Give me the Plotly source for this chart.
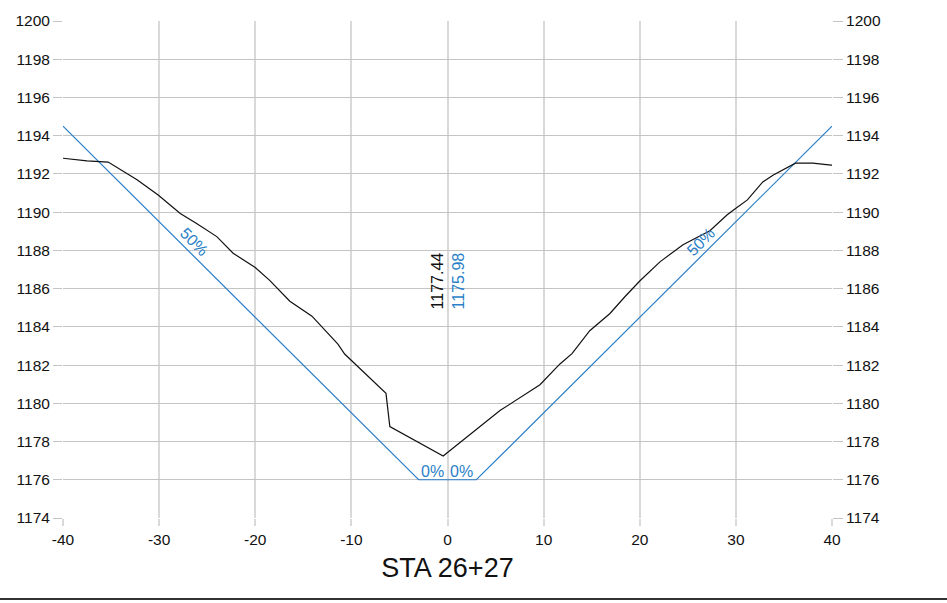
import plotly.graph_objects as go

# Existing ground profile (offset ft, elevation ft)
ground_x = [-40.0, -37.5, -35.3, -32.3, -30.1, -27.8, -26.1, -24.0, -22.3, -20.0, -18.5,
            -16.4, -14.1, -11.4, -10.7, -6.4, -6.0, -0.45, 5.46, 8.58, 9.62, 11.7,
            12.95, 14.8, 16.9, 18.5, 20.0, 22.1, 24.5, 27.3, 29.1, 29.9, 31.2, 32.8,
            33.9, 36.2, 38.0, 39.9, 40.0]
ground_y = [1192.82, 1192.68, 1192.62, 1191.70, 1190.90, 1189.93, 1189.41, 1188.72, 1187.85,
            1187.10, 1186.43, 1185.34, 1184.56, 1183.10, 1182.58, 1180.52, 1178.78, 1177.24,
            1179.62, 1180.66, 1180.97, 1182.06, 1182.60, 1183.80, 1184.70, 1185.60, 1186.40,
            1187.40, 1188.30, 1189.03, 1189.86, 1190.17, 1190.64, 1191.58, 1191.94, 1192.56,
            1192.56, 1192.46, 1192.46]

# Proposed design section
design_x = [-40.0, -3.0, 0.0, 3.0, 40.0]
design_y = [1194.5, 1176.0, 1176.0, 1176.0, 1194.5]

station_label = "STA 26+27"
ground_center = "1177.44"
design_center = "1175.98"
slope_labels = ["50%", "0%", "0%", "50%"]

x_ticks = [-40, -30, -20, -10, 0, 10, 20, 30, 40]
x_tick_text = ["-40", "-30", "-20", "-10", "0", "10", "20", "30", "40"]
y_ticks = list(range(1174, 1201, 2))

BLUE = "#2b7fc8"
FONT = "Liberation Sans, Arial, sans-serif"
TICK = 15.5
ANN = 16

fig = go.Figure()
fig.add_trace(go.Scatter(x=design_x, y=design_y, mode="lines",
                         line=dict(color=BLUE, width=1.2), hoverinfo="skip", showlegend=False))
fig.add_trace(go.Scatter(x=ground_x, y=ground_y, mode="lines",
                         line=dict(color="#111111", width=1.2), hoverinfo="skip", showlegend=False))
# invisible trace for right axis
fig.add_trace(go.Scatter(x=[x_ticks[0]], y=[y_ticks[0]], yaxis="y2", mode="markers",
                         marker=dict(opacity=0), hoverinfo="skip", showlegend=False))

ann = []
ann.append(dict(x=-26.4, y=1188.45, text=slope_labels[0], textangle=45, showarrow=False,
                font=dict(color=BLUE, size=ANN, family=FONT)))
ann.append(dict(x=-1.6, y=1176.42, text=slope_labels[1], showarrow=False,
                font=dict(color=BLUE, size=ANN, family=FONT)))
ann.append(dict(x=1.5, y=1176.42, text=slope_labels[2], showarrow=False,
                font=dict(color=BLUE, size=ANN, family=FONT)))
ann.append(dict(x=26.4, y=1188.45, text=slope_labels[3], textangle=-45, showarrow=False,
                font=dict(color=BLUE, size=ANN, family=FONT)))
ann.append(dict(x=0, y=1186.4, text=ground_center, textangle=-90, showarrow=False, xshift=-10,
                font=dict(color="#111111", size=ANN, family=FONT)))
ann.append(dict(x=0, y=1186.4, text=design_center, textangle=-90, showarrow=False, xshift=11,
                font=dict(color=BLUE, size=ANN, family=FONT)))

fig.update_layout(
    width=947, height=603,
    margin=dict(l=63, r=115, t=18, b=85),
    paper_bgcolor="white", plot_bgcolor="white",
    font=dict(family=FONT, size=TICK, color="#111111"),
    annotations=ann,
    xaxis=dict(range=[-40, 40], tickvals=x_ticks, ticktext=x_tick_text, showgrid=True,
               gridcolor="#d9d9d9", gridwidth=2, zeroline=False, ticks="outside", ticklen=7,
               tickcolor="#d9d9d9", tickwidth=2, showline=False,
               title=dict(text=station_label, font=dict(size=27, family=FONT, color="#111111"),
                          standoff=11),
               tickfont=dict(size=TICK, color="#111111")),
    yaxis=dict(range=[1174, 1200], tickvals=y_ticks, showgrid=True, gridcolor="#c4c4c4",
               gridwidth=1, zeroline=False, ticks="outside", ticklen=9, tickcolor="#c4c4c4",
               showline=False, tickfont=dict(size=TICK, color="#111111")),
    yaxis2=dict(range=[1174, 1200], tickvals=y_ticks, overlaying="y", side="right",
                showgrid=False, zeroline=False, ticks="outside", ticklen=10, tickcolor="#c4c4c4",
                showline=False, tickfont=dict(size=TICK, color="#111111")),
    shapes=[dict(type="line", xref="paper", yref="paper", x0=-0.1, x1=1.2,
                 y0=-0.163, y1=-0.163, line=dict(color="#333333", width=2))],
)

fig.write_html("out.html", config=dict(displayModeBar=False),
               post_script="document.body.style.margin='0';document.body.style.overflow='hidden';")
